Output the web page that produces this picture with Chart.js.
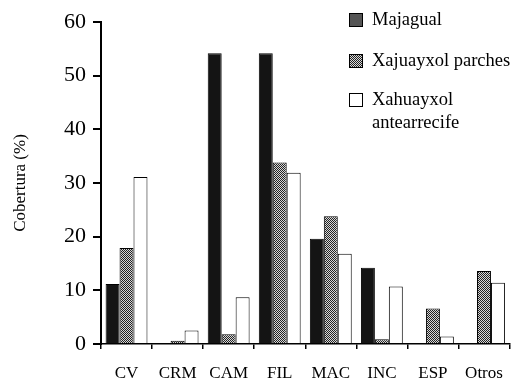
<!DOCTYPE html>
<html>
<head>
<meta charset="utf-8">
<script src="https://cdn.jsdelivr.net/npm/chart.js@4.4.1/dist/chart.umd.min.js"></script>
<style>
  html, body { margin: 0; padding: 0; background: #fff; }
</style>
</head>
<body>
<canvas id="chart" width="517" height="381"></canvas>
<script>
// Datos (cobertura en %)
const categories = ['CV', 'CRM', 'CAM', 'FIL', 'MAC', 'INC', 'ESP', 'Otros'];
const majagual = [11.2, 0, 54.2, 54.2, 19.6, 14.2, 0, 0];
const xajuayxolParches = [17.9, 0.6, 1.8, 33.8, 23.8, 0.9, 6.6, 13.6];
const xahuayxolAntearrecife = [31.1, 2.5, 8.7, 31.9, 16.8, 10.7, 1.4, 11.4];
const seriesLabels = ['Majagual', 'Xajuayxol parches', ['Xahuayxol', 'antearrecife']];
const yMin = 0, yMax = 60, yStep = 10;

const serif = "'Liberation Serif', 'DejaVu Serif', serif";

// Trama de cuadritos para la serie "parches"
function makeChecker() {
  const c = document.createElement('canvas');
  c.width = 2; c.height = 2;
  const g = c.getContext('2d');
  g.fillStyle = '#d8d8d8';
  g.fillRect(0, 0, 2, 2);
  g.fillStyle = '#222';
  g.fillRect(0, 0, 1, 1);
  g.fillRect(1, 1, 1, 1);
  return g.createPattern(c, 'repeat');
}
const checker = makeChecker();

// Leyenda dibujada a mano, arriba a la derecha
const sideLegend = {
  id: 'sideLegend',
  afterDraw(chart) {
    const ctx = chart.ctx;
    const rows = [20, 61, 100];
    ctx.save();
    ctx.font = '18.5px ' + serif;
    ctx.textBaseline = 'middle';
    chart.data.datasets.forEach((ds, i) => {
      const y = rows[i];
      ctx.fillStyle = i === 0 ? '#555' : ds.backgroundColor;
      ctx.fillRect(349, y - 7, 14, 14);
      ctx.strokeStyle = '#000';
      ctx.lineWidth = 1;
      ctx.strokeRect(349.5, y - 6.5, 13, 13);
      ctx.fillStyle = '#000';
      const lines = Array.isArray(ds.label) ? ds.label : [ds.label];
      lines.forEach((t, k) => ctx.fillText(t, 372, y + k * 23));
    });
    ctx.restore();
  }
};

const ctx = document.getElementById('chart').getContext('2d');
new Chart(ctx, {
  type: 'bar',
  data: {
    labels: categories,
    datasets: [
      { label: seriesLabels[0], data: majagual, backgroundColor: '#141414', borderColor: '#000', borderWidth: 1 },
      { label: seriesLabels[1], data: xajuayxolParches, backgroundColor: checker, borderColor: '#000', borderWidth: 1 },
      { label: seriesLabels[2], data: xahuayxolAntearrecife, backgroundColor: '#fff', borderColor: '#000', borderWidth: 1 },
    ],
  },
  options: {
    responsive: false,
    animation: false,
    layout: { padding: { top: 22, right: 2, left: 0, bottom: 0 } },
    datasets: { bar: { categoryPercentage: 0.82, barPercentage: 1.0 } },
    plugins: { legend: { display: false }, tooltip: { enabled: false } },
    scales: {
      x: {
        grid: { offset: true, drawOnChartArea: false, color: '#000', tickLength: 5, lineWidth: 1.5 },
        border: { display: true, color: '#000', width: 1.5 },
        ticks: { color: '#000', font: { family: serif, size: 17 }, padding: 14, maxRotation: 0 },
        afterFit(scale) { scale.height = 37; },
      },
      y: {
        min: yMin,
        max: yMax,
        grid: { drawOnChartArea: false, color: '#000', tickLength: 8, lineWidth: 2 },
        border: { display: true, color: '#000', width: 2 },
        ticks: { stepSize: yStep, color: '#000', font: { family: serif, size: 22 }, padding: 7 },
        title: { display: true, text: 'Cobertura (%)', color: '#000', font: { family: serif, size: 17 }, padding: { top: 10, bottom: 0 } },
        afterFit(scale) { scale.width = 101; },
      },
    },
  },
  plugins: [sideLegend],
});
</script>
</body>
</html>
